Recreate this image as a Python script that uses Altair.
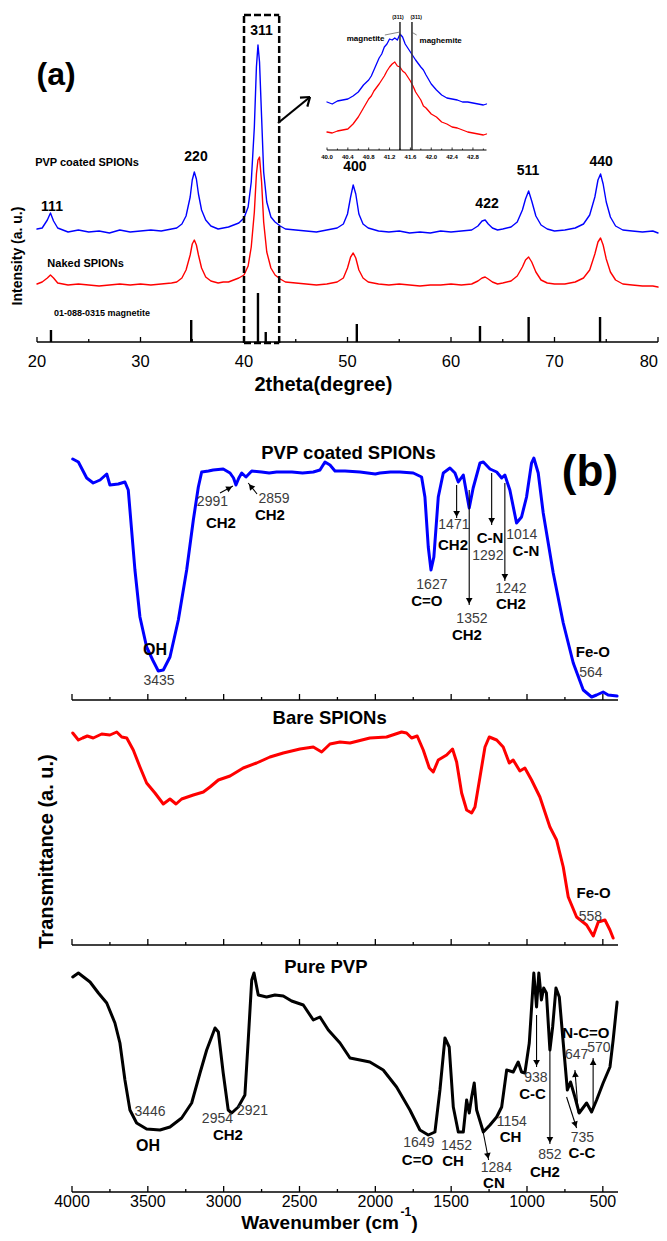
import altair as alt
import pandas as pd

FONT = "Liberation Sans"

# ---------------- (a) XRD data ----------------
xrd_two_theta = [20.0, 20.5, 21.0, 21.3, 21.6, 22.0, 22.5, 23,
                 24, 25, 26, 27, 28, 29, 30, 31, 32, 33,
                 33.5, 34, 34.4, 34.8, 35.0, 35.2, 35.4, 35.6, 35.9, 36.3, 36.8, 37.5,
                 38, 38.5, 39, 39.5, 40,
                 40.4, 40.7, 41.0, 41.2, 41.35, 41.5, 41.7, 41.9, 42.2, 42.6, 43.0, 43.5, 44,
                 45, 46, 47, 48, 49,
                 49.6, 50.0, 50.3, 50.55, 50.8, 51.1, 51.5, 52,
                 53, 54, 55, 56, 57, 58, 59, 60, 61, 62,
                 62.6, 63.0, 63.3, 63.6, 64, 64.5, 65,
                 65.8, 66.4, 66.9, 67.2, 67.5, 67.8, 68.2, 68.7, 69.3, 70,
                 71, 72,
                 72.8, 73.4, 73.9, 74.2, 74.45, 74.7, 75.0, 75.4, 75.9, 76.6,
                 77.5, 78.5, 79.5, 80]
xrd_pvp_coated = [113, 114, 122, 129, 121, 114, 112, 110,
                  112, 110, 111, 109, 112, 110, 111, 112, 111, 113,
                  114, 118, 126, 145, 162, 170, 163, 148, 132, 122, 116, 113,
                  114, 115, 117, 119, 124,
                  135, 160, 215, 275, 297, 280, 225, 170, 140, 125, 120, 116, 113,
                  112, 111, 110, 112, 114,
                  118, 128, 145, 157, 148, 128, 118, 114,
                  111, 110, 111, 109, 110, 109, 111, 110, 111, 112,
                  116, 121, 122, 118, 114, 112, 113,
                  115, 120, 132, 143, 151, 141, 126, 117, 113, 111,
                  112, 114,
                  118, 127, 145, 162, 168, 158, 140, 125, 116, 112,
                  111, 110, 111, 109]
xrd_naked = [58, 60, 64, 67, 64, 59, 58, 57,
             58, 57, 56, 57, 58, 57, 58, 57, 58, 59,
             60, 64, 72, 87, 98, 102, 97, 87, 74, 65, 61, 59,
             60, 60, 62, 64, 67,
             76, 95, 130, 168, 182, 185, 160, 120, 90, 74, 67, 63, 60,
             59, 58, 57, 58, 60,
             64, 74, 85, 89, 84, 72, 64, 60,
             58, 57, 58, 57, 56, 57, 57, 58, 57, 58,
             61, 64, 65, 63, 60, 58, 59,
             61, 66, 75, 82, 85, 80, 70, 62, 59, 58,
             58, 60,
             64, 72, 88, 100, 104, 97, 83, 70, 62, 58,
             57, 56, 56, 55]
ref_two_theta = [21.35, 34.9, 41.35, 42.1, 50.9, 62.8, 67.5, 74.4]
ref_intensity = [12, 22, 49, 10, 18, 16, 25, 25]
peak_labels = ["111", "220", "311", "400", "422", "511", "440"]
peak_label_x = [21.45, 35.36, 41.7, 50.72, 63.48, 67.44, 74.5]
peak_label_y = [135, 185, 311, 175, 138, 171, 180]
xrd_ticks = [20, 30, 40, 50, 60, 70, 80]
xrd_minor_ticks = [25, 35, 45, 55, 65, 75]

inset_two_theta = [40.0, 40.1, 40.2, 40.3, 40.4, 40.5, 40.6, 40.7, 40.8, 40.85, 40.9,
                   41.0, 41.05, 41.1, 41.15, 41.2, 41.25, 41.3, 41.35, 41.4, 41.45,
                   41.5, 41.55, 41.6, 41.65, 41.7, 41.8, 41.85, 41.9, 42.0, 42.1,
                   42.2, 42.3, 42.4, 42.5, 42.6, 42.7, 42.8, 42.9, 43.0, 43.06]
inset_pvp_coated = [48, 46, 49, 50, 51, 54, 58, 65, 70, 74, 80,
                    92, 96, 103, 106, 111, 110, 112, 110, 116, 113,
                    106, 102, 98, 94, 90, 83, 80, 75, 66, 60,
                    55, 52, 51, 50, 48, 48, 47, 46, 45, 46]
inset_naked = [18, 17, 19, 20, 21, 26, 33, 42, 51, 54, 59,
               66, 70, 74, 79, 83, 86, 88, 84, 83, 79,
               77, 73, 69, 64, 58, 50, 44, 42, 36, 33,
               28, 26, 23, 22, 20, 18, 17, 16, 15, 16]
inset_ticks = [40.0, 40.4, 40.8, 41.2, 41.6, 42.0, 42.4, 42.8]
inset_minor_ticks = [40.2, 40.6, 41.0, 41.4, 41.8, 42.2, 42.6, 43.0]
inset_ref_lines = [41.40, 41.63]

# ---------------- (b) FTIR data ----------------
wn_pvp_coated = [3995, 3958, 3903, 3860, 3815, 3771, 3750, 3695, 3651, 3629, 3607, 3585, 3552,
                 3508, 3468, 3431, 3398, 3354, 3299, 3244, 3200, 3167, 3145, 3100, 3069, 3003,
                 2958, 2935, 2919, 2900, 2881, 2853, 2815, 2750, 2700, 2651, 2550, 2480, 2409,
                 2365, 2332, 2299, 2266, 2200, 2101, 2000, 1970, 1900, 1838, 1750, 1695, 1673,
                 1651, 1633, 1614, 1585, 1552, 1508, 1475, 1453, 1420, 1381, 1355, 1310, 1288,
                 1244, 1200, 1167, 1146, 1113, 1069, 1036, 1003, 970, 955, 926, 893, 827, 761,
                 695, 629, 574, 541, 498, 465, 406]
tr_pvp_coated = [241, 238, 222, 217, 220, 226, 215, 216, 218, 210, 170, 130, 83,
                 53, 40, 29, 30, 43, 80, 130, 180, 213, 228, 229, 230, 231,
                 227, 222, 215, 222, 227, 223, 229, 228, 227, 228, 228, 227, 228,
                 230, 238, 235, 229, 229, 228, 226, 227, 228, 228, 227, 223, 203,
                 153, 130, 143, 203, 227, 232, 227, 218, 225, 192, 212, 237, 238,
                 231, 228, 222, 225, 210, 177, 183, 203, 237, 242, 227, 187, 127, 77,
                 37, 10, 3, 5, 8, 5, 4]

wn_bare = [3995, 3958, 3930, 3899, 3860, 3804, 3750, 3705, 3672, 3639, 3596, 3552, 3508,
           3453, 3398, 3354, 3314, 3277, 3200, 3134, 3090, 3035, 2958, 2871, 2783, 2695,
           2607, 2497, 2409, 2354, 2299, 2233, 2167, 2036, 1926, 1827, 1794, 1761, 1724,
           1684, 1644, 1618, 1585, 1530, 1491, 1464, 1431, 1398, 1365, 1343, 1310, 1277,
           1249, 1200, 1157, 1117, 1091, 1047, 1014, 970, 915, 849, 805, 761, 728, 673,
           607, 563, 530, 486, 453, 432]
tr_bare = [212, 205, 207, 209, 207, 211, 210, 213, 208, 207, 195, 178, 162,
           152, 141, 146, 141, 146, 150, 153, 158, 165, 169, 177, 182, 188,
           192, 196, 198, 193, 201, 203, 202, 207, 208, 213, 212, 207, 209,
           195, 177, 173, 185, 190, 196, 183, 152, 135, 132, 138, 168, 198,
           208, 205, 198, 182, 185, 174, 177, 165, 148, 118, 105, 78, 48, 28,
           20, 9, 23, 25, 15, 7]

wn_pure = [3995, 3958, 3881, 3826, 3771, 3717, 3684, 3651, 3618, 3574, 3508, 3420, 3354,
           3277, 3211, 3156, 3112, 3057, 3035, 3003, 2970, 2947, 2904, 2860, 2838, 2815,
           2800, 2772, 2717, 2662, 2607, 2552, 2475, 2409, 2365, 2310, 2233, 2167, 2101,
           2036, 1948, 1860, 1772, 1706, 1651, 1607, 1574, 1541, 1513, 1486, 1453, 1420,
           1398, 1381, 1365, 1348, 1332, 1288, 1244, 1200, 1167, 1134, 1091, 1058, 1036,
           1014, 985, 955, 937, 922, 905, 890, 872, 849, 831, 809, 787, 761, 734, 713,
           684, 656, 607, 574, 541, 498, 453, 432, 406]
tr_pure = [215, 219, 210, 199, 189, 169, 149, 112, 82, 69, 63, 62, 65,
           74, 89, 119, 142, 164, 160, 119, 82, 79, 85, 97, 152, 212,
           219, 197, 195, 197, 196, 191, 187, 172, 175, 162, 149, 134, 132,
           130, 122, 105, 82, 62, 57, 60, 102, 154, 145, 85, 60, 60,
           92, 79, 95, 109, 82, 60, 67, 75, 85, 122, 120, 130, 120,
           119, 149, 219, 185, 219, 192, 204, 199, 142, 165, 204, 195, 149, 102, 110,
           95, 79, 89, 80, 92, 109, 125, 152, 190]
ftir_ticks = [4000, 3500, 3000, 2500, 2000, 1500, 1000, 500]
ftir_minor_ticks = [3750, 3250, 2750, 2250, 1750, 1250, 750]

# ---------------- scales (whole chart is one canvas) ----------------
def sc(domain, rng):
    return alt.Scale(domain=domain, range=rng, nice=False, zero=False)

XA, YA = sc([20, 80], [29, 650]), sc([0, 330], [334, 4])
XI, YI = sc([40, 43.06], [319, 478.5]), sc([0, 140], [142, 2])
XB = sc([4000, 400], [64, 610])
YB1 = sc([0, 260], [692, 432])
YB2 = sc([0, 240], [937, 697])
YB3 = sc([0, 240], [1184, 944])


def xy(xs, ys):
    return dict(x=alt.X("x:Q", scale=xs, axis=None), y=alt.Y("y:Q", scale=ys, axis=None))


def line(xv, yv, xs, ys, color, width):
    df = pd.DataFrame({"x": xv, "y": yv})
    return alt.Chart(df).mark_line(color=color, strokeWidth=width, strokeJoin="round",
                                   strokeCap="round").encode(**xy(xs, ys))


def segs(x1, y1, x2, y2, xs, ys, color="black", width=1.0, dash=None):
    df = pd.DataFrame({"x": x1, "y": y1, "x2": x2, "y2": y2})
    kw = dict(color=color, strokeWidth=width)
    if dash:
        kw["strokeDash"] = dash
    return alt.Chart(df).mark_rule(**kw).encode(x2="x2:Q", y2="y2:Q", **xy(xs, ys))


def texts(xv, yv, labels, xs, ys, size, weight="normal", color="black", angle=0,
          align="center", baseline="middle"):
    df = pd.DataFrame({"x": xv, "y": yv, "t": labels})
    return alt.Chart(df).mark_text(font=FONT, fontSize=size, fontWeight=weight, color=color,
                                   angle=angle, align=align, baseline=baseline
                                   ).encode(text="t:N", **xy(xs, ys))


def heads(xv, yv, xs, ys, shape="triangle-down", angle=0, size=45):
    df = pd.DataFrame({"x": xv, "y": yv})
    return alt.Chart(df).mark_point(shape=shape, filled=True, color="black", opacity=1,
                                    size=size, angle=angle, strokeWidth=0).encode(**xy(xs, ys))


def ticks(vals, size, xs, ys, width=1.3):
    return segs(vals, [0] * len(vals), vals, [size] * len(vals), xs, ys, width=width)


layers = []
NUM = "#3c3c3c"

# ---------------- panel (a) ----------------
layers += [
    line(xrd_two_theta, xrd_pvp_coated, XA, YA, "#0000ff", 1.4),
    line(xrd_two_theta, xrd_naked, XA, YA, "#ff0000", 1.4),
    segs(ref_two_theta, [0] * len(ref_two_theta), ref_two_theta, ref_intensity, XA, YA, width=2.4),
    segs([20], [0], [80], [0], XA, YA, width=1.5),
    ticks(xrd_ticks, 5, XA, YA), ticks(xrd_minor_ticks, 3, XA, YA),
    texts(xrd_ticks[:-1], [-20] * 6, [str(t) for t in xrd_ticks[:-1]], XA, YA, 16.5),
    texts([xrd_ticks[-1]], [-20], [str(xrd_ticks[-1])], XA, YA, 16.5, align="right"),
    texts([47.67], [-43], ["2theta(degree)"], XA, YA, 20, "bold"),
    texts([18.12], [86], ["Intensity (a. u.)"], XA, YA, 14, "bold", angle=270),
    texts([21.84], [267], ["(a)"], XA, YA, 32, "bold"),
    texts(peak_label_x, peak_label_y, peak_labels, XA, YA, 14, "bold"),
    texts([24.83, 24.69], [179, 78], ["PVP coated SPIONs", "Naked SPIONs"], XA, YA, 11, "bold"),
    texts([26.28], [29], ["01-088-0315 magnetite"], XA, YA, 9, "bold"),
    # dashed box around the (311) reflection
    segs([40.0, 43.4, 40.0, 40.0], [-1, -1, -1, 327], [40.0, 43.4, 43.4, 43.4], [327, 327, -1, 327],
         XA, YA, width=2.5, dash=[7, 3]),
    # arrow to the inset
    segs([43.29, 45.41, 46.12], [219, 244.3, 235.4], [46.38, 46.38, 46.38], [245, 245, 245],
         XA, YA, width=2.2),
]

# inset
layers += [
    line(inset_two_theta, inset_pvp_coated, XI, YI, "#0000ff", 1.3),
    line(inset_two_theta, inset_naked, XI, YI, "#ff0000", 1.3),
    segs(inset_ref_lines, [0, 0], inset_ref_lines, [128, 128], XI, YI, color="#333333", width=1.6),
    segs([40.0], [0], [43.06], [0], XI, YI, width=1),
    ticks(inset_ticks, 2.5, XI, YI, width=0.8), ticks(inset_minor_ticks, 1.5, XI, YI, width=0.8),
    texts(inset_ticks, [-6.7] * len(inset_ticks), ["%.1f" % t for t in inset_ticks], XI, YI, 6, "bold"),
    texts([41.36, 41.71], [133, 133], ["(311)", "(311)"], XI, YI, 5, "bold"),
    texts([40.74, 42.18], [111, 109], ["magnetite", "maghemite"], XI, YI, 8, "bold"),
    segs([41.11, 41.72], [115, 115], [41.40, 41.62], [118, 118], XI, YI, color="#555555", width=0.7),
]

# ---------------- panel (b) ----------------
for ys in (YB1, YB2, YB3):
    layers += [segs([4000], [0], [400], [0], XB, ys, width=1.5),
               ticks(ftir_ticks, 6, XB, ys), ticks(ftir_minor_ticks, 3, XB, ys)]

layers += [
    line(wn_pvp_coated, tr_pvp_coated, XB, YB1, "#0000ff", 3),
    line(wn_bare, tr_bare, XB, YB2, "#ff0000", 3),
    line(wn_pure, tr_pure, XB, YB3, "black", 3),
    texts(ftir_ticks, [-10] * len(ftir_ticks), [str(t) for t in ftir_ticks], XB, YB3, 16),
    texts([2884], [-36.5], ["Wavenumber (cm"], XB, YB3, 19, "bold", align="left", baseline="alphabetic"),
    texts([1834], [-24], ["-1"], XB, YB3, 12, "bold", align="left", baseline="alphabetic"),
    texts([1762], [-36.5], [")"], XB, YB3, 19, "bold", align="left", baseline="alphabetic"),
    texts([4168], [93.5], ["Transmittance (a. u.)"], XB, YB2, 20, "bold", angle=270),
    texts([585], [227], ["(b)"], XB, YB1, 44, "bold"),
    texts([2177], [247], ["PVP coated SPIONs"], XB, YB1, 18.5, "bold"),
    texts([2301], [227], ["Bare SPIONs"], XB, YB2, 18.5, "bold"),
    texts([2326], [225], ["Pure PVP"], XB, YB3, 18.5, "bold"),
]

# top panel annotations
layers += [
    texts([3453], [50], ["OH"], XB, YB1, 16, "bold"),
    texts([3018, 2695, 1488, 1396, 1106], [177, 185, 155, 65, 96],
          ["CH2", "CH2", "CH2", "CH2", "CH2"], XB, YB1, 15, "bold"),
    texts([1244, 1007, 1660, 566], [162, 149, 99, 48], ["C-N", "C-N", "C=O", "Fe-O"], XB, YB1, 15, "bold"),
    texts([3426, 3074, 2668, 1482, 1258, 1034, 1627, 1363, 1106, 579],
          [19, 198, 201, 175, 144, 165, 115, 81, 111, 27],
          ["3435", "2991", "2859", "1471", "1292", "1014", "1627", "1352", "1242", "564"],
          XB, YB1, 14, color=NUM),
    segs([3024, 2780, 1464, 1233, 1381, 1146], [207, 206, 215, 227, 210, 217],
         [2939, 2838, 1464, 1233, 1381, 1146], [214, 217, 182, 175, 95, 119], XB, YB1, width=1.1),
    heads([1464, 1233, 1381, 1146], [186, 179, 99, 123], XB, YB1),
    heads([2962], [212], XB, YB1, shape="triangle-up", angle=62),
    heads([2821], [213.6], XB, YB1, shape="triangle-up", angle=321),
]

# middle panel annotations
layers += [
    texts([561], [52], ["Fe-O"], XB, YB2, 15, "bold"),
    texts([582], [28], ["558"], XB, YB2, 14, color=NUM),
]

# bottom panel annotations
layers += [
    texts([3499], [46], ["OH"], XB, YB3, 16, "bold"),
    texts([2972, 1722, 1488, 1218, 1109, 964, 882, 612, 638],
          [57, 32, 31, 9, 55, 98, 20, 159, 39],
          ["CH2", "C=O", "CH", "CN", "CH", "C-C", "CH2", "N-C=O", "C-C"], XB, YB3, 15, "bold"),
    texts([3486, 3041, 2810, 1713, 1465, 1202, 1100, 941, 849, 673, 526, 635],
          [80, 73, 81, 49, 46, 24, 70, 114, 37, 137, 144, 54],
          ["3446", "2954", "2921", "1649", "1452", "1284", "1154", "938", "852", "647", "570", "735"],
          XB, YB3, 14, color=NUM),
    segs([1293, 937, 849, 662, 564, 739], [63, 177, 152, 79, 82, 95],
         [1253, 937, 849, 684, 564, 673], [32, 125, 48, 122, 134, 64], XB, YB3, width=1.1),
    heads([937, 849], [129, 52], XB, YB3),
    heads([564], [130], XB, YB3, shape="triangle-up"),
    heads([1258], [36], XB, YB3, shape="triangle-up", angle=169),
    heads([681], [67.5], XB, YB3, shape="triangle-up", angle=162),
    heads([682], [118], XB, YB3, shape="triangle-up", angle=356),
]

chart = alt.layer(*layers).resolve_scale(x="independent", y="independent").properties(
    width=651, height=1225, autosize=alt.AutoSizeParams(type="none"), padding=0
).configure_view(strokeOpacity=0)

chart.save("out.html", embed_options={"renderer": "svg", "actions": False})
